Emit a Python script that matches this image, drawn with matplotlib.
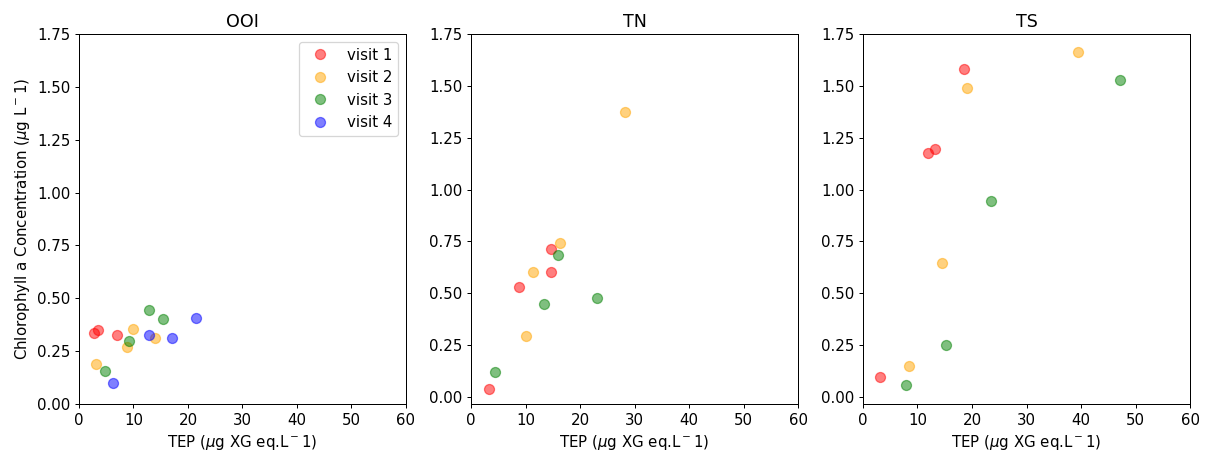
import matplotlib
matplotlib.use("Agg")
import matplotlib.pyplot as plt

# --- data
sites = ["OOI", "TN", "TS"]
visits = ["visit 1", "visit 2", "visit 3", "visit 4"]
colors = ["red", "orange", "green", "blue"]

# OOI
ooi_tep = {
    "visit 1": [2.8, 3.5, 6.9],
    "visit 2": [3.1, 8.8, 9.9, 14.0],
    "visit 3": [4.8, 9.2, 12.8, 15.5],
    "visit 4": [6.2, 12.9, 17.1, 21.4],
}
ooi_chl = {
    "visit 1": [0.334, 0.35, 0.325],
    "visit 2": [0.19, 0.27, 0.355, 0.31],
    "visit 3": [0.155, 0.30, 0.445, 0.40],
    "visit 4": [0.098, 0.325, 0.312, 0.407],
}

# TN
tn_tep = {
    "visit 1": [3.3, 8.8, 14.7, 14.7],
    "visit 2": [10.0, 11.3, 16.4, 28.3],
    "visit 3": [4.4, 13.3, 16.0, 23.1],
}
tn_chl = {
    "visit 1": [0.039, 0.529, 0.603, 0.714],
    "visit 2": [0.292, 0.603, 0.744, 1.374],
    "visit 3": [0.122, 0.447, 0.683, 0.477],
}

# TS
ts_tep = {
    "visit 1": [3.1, 11.9, 13.3, 18.5],
    "visit 2": [8.5, 14.5, 19.0, 39.5],
    "visit 3": [7.9, 15.2, 23.4, 47.1],
}
ts_chl = {
    "visit 1": [0.095, 1.176, 1.196, 1.581],
    "visit 2": [0.15, 0.645, 1.488, 1.665],
    "visit 3": [0.06, 0.25, 0.945, 1.527],
}

tep_all = [ooi_tep, tn_tep, ts_tep]
chl_all = [ooi_chl, tn_chl, ts_chl]

plt.rcParams["font.size"] = 12

# rendered at 90 dpi so text sizes match the reference
fig = plt.figure(figsize=(1209 / 90, 450 / 90), dpi=90)
lefts = [0.0653, 0.3896, 0.7138]
w = 0.2705
bottom = 0.1022
h = 0.8222

for i, site in enumerate(sites):
    ax = fig.add_axes([lefts[i], bottom, w, h])
    for v, c in zip(visits, colors):
        if v in tep_all[i]:
            ax.plot(tep_all[i][v], chl_all[i][v], "o", color=c, alpha=0.5,
                    markersize=8, label=v)
    ax.set_xlim(0, 60)
    if i == 0:
        ax.set_ylim(0, 1.75)
        ax.set_ylabel("Chlorophyll a Concentration ($\\mu$g L$^-$1)")
        ax.legend(loc="upper right")
    else:
        ax.set_ylim(-0.034, 1.75)
    ax.set_yticks([0, 0.25, 0.5, 0.75, 1.0, 1.25, 1.5, 1.75])
    ax.set_xlabel("TEP ($\\mu$g XG eq.L$^-$1)")
    ax.set_title(site, fontsize=14)

plt.savefig("out.png", dpi=90)
